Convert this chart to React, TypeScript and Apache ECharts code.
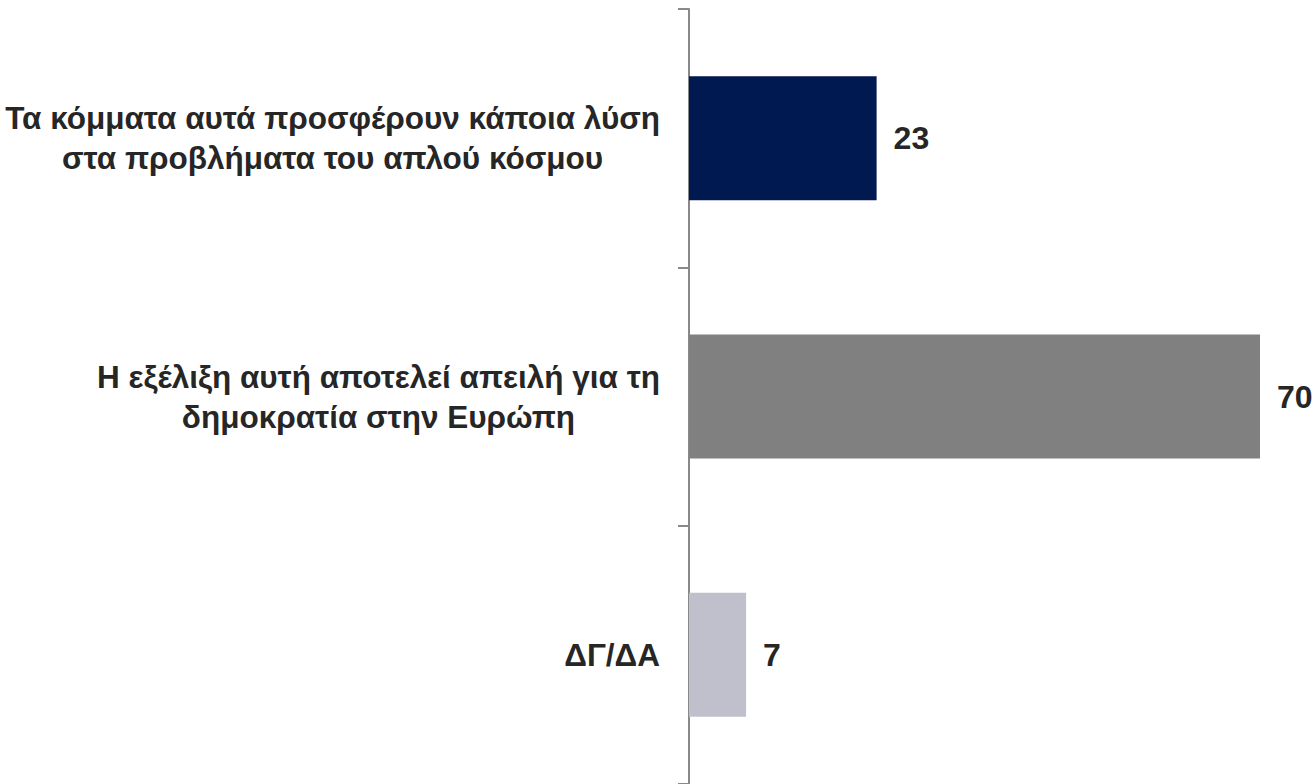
import React, { useEffect, useRef } from "react";
import * as echarts from "echarts";

const categories: string[][] = [
  ["Τα κόμματα αυτά προσφέρουν κάποια λύση", "στα προβλήματα του απλού κόσμου"],
  ["Η εξέλιξη αυτή αποτελεί απειλή για τη", "δημοκρατία στην Ευρώπη"],
  ["ΔΓ/ΔΑ"],
];
const values: number[] = [23, 70, 7];
const colors: string[] = ["#001950", "#808080", "#C0C0CC"];

const FONT = "'Liberation Sans Narrow', 'Arial Narrow', 'Liberation Sans', Arial, sans-serif";

export default function App() {
  const ref = useRef<HTMLDivElement>(null);
  useEffect(() => {
    document.body.style.margin = "0";
    const chart = echarts.init(ref.current!, null, { renderer: "svg" });
    chart.setOption({
      animation: false,
      backgroundColor: "#ffffff",
      grid: {
        left: 689,
        top: 9,
        width: 571,
        height: 775,
        containLabel: false,
        outerBoundsMode: "none",
      },
      xAxis: {
        type: "value",
        min: 0,
        max: 70,
        show: false,
      },
      yAxis: {
        type: "category",
        inverse: true,
        data: categories.map((c) => c.join("\n")),
        axisLine: { show: true, lineStyle: { color: "#898989", width: 2 } },
        axisTick: { show: true, length: 11, lineStyle: { color: "#898989", width: 2 } },
        axisLabel: {
          margin: 29,
          align: "right",
          color: "#262626",
          fontFamily: FONT,
          fontWeight: "bold",
          fontSize: 31.5,
          lineHeight: 40,
          formatter: (v: string) => v.split("\n").map((l) => `{c|${l}}`).join("\n"),
          rich: {
            c: {
              align: "center",
              fontFamily: FONT,
              fontWeight: "bold",
              fontSize: 31.5,
              lineHeight: 40,
              color: "#262626",
            },
          },
        },
        splitLine: { show: false },
      },
      series: [
        {
          type: "bar",
          data: values.map((v, i) => ({ value: v, itemStyle: { color: colors[i] } })),
          barWidth: 124,
          label: {
            show: true,
            position: "right",
            distance: 17,
            color: "#262626",
            fontFamily: FONT,
            fontWeight: "bold",
            fontSize: 32,
          },
        },
      ],
    });
    return () => chart.dispose();
  }, []);
  return <div ref={ref} style={{ width: 1312, height: 784 }} />;
}
